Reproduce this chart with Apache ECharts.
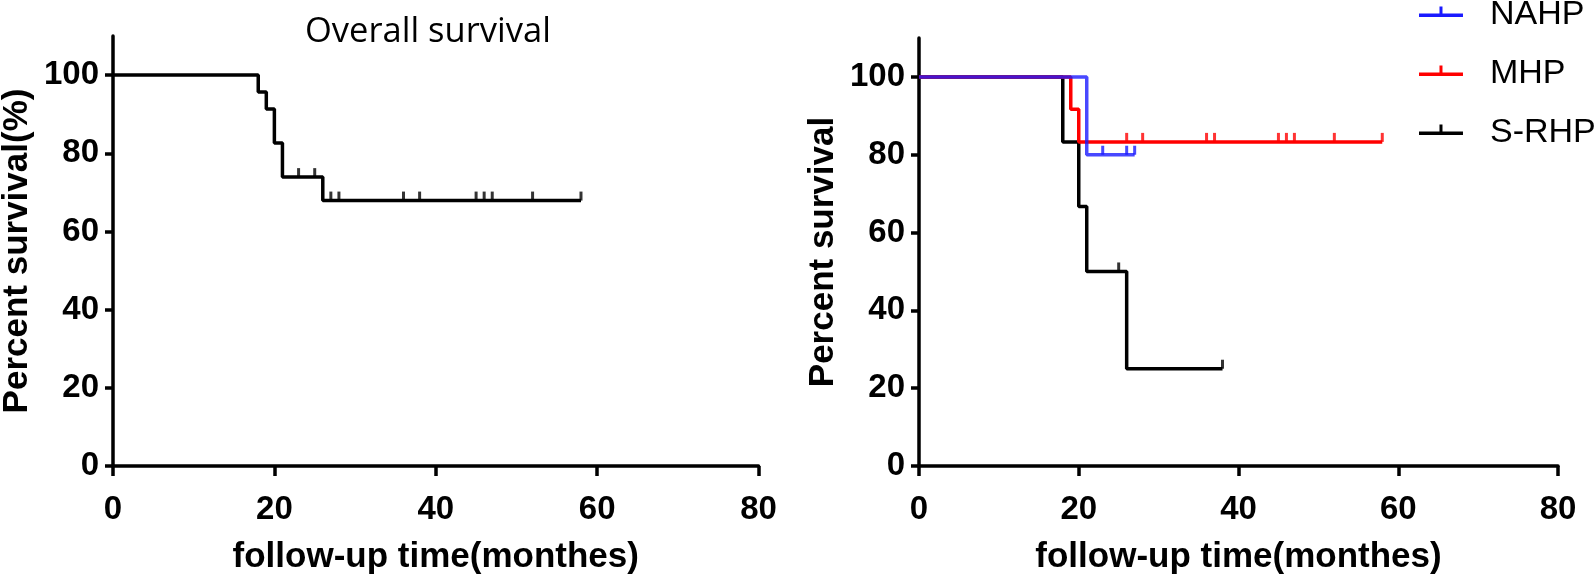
<!DOCTYPE html>
<html>
<head>
<meta charset="utf-8">
<script src="https://cdn.jsdelivr.net/npm/echarts@6/dist/echarts.min.js"></script>
<style>
html,body{margin:0;padding:0;background:#fff;}
#chart{width:1594px;height:574px;}
</style>
</head>
<body>
<div id="chart"></div>
<script>
// ---- Data ----
const yTicks = [0, 20, 40, 60, 80, 100];
const xTicks = [0, 20, 40, 60, 80];

// Overall survival (left panel)
const osTime = [0, 18, 19, 20, 21, 26, 58];
const osSurv = [100, 95.7, 91.3, 82.6, 73.9, 67.9, 67.9];
const osCensorTime = [23, 25, 27, 28, 36, 38, 45, 46, 47, 52, 58];
const osCensorSurv = [73.9, 73.9, 67.9, 67.9, 67.9, 67.9, 67.9, 67.9, 67.9, 67.9, 67.9];

// Groups (right panel)
const groupNames = ['NAHP', 'MHP', 'S-RHP'];
const nahpTime = [0, 21, 27];
const nahpSurv = [100, 80, 80];
const nahpCensorTime = [23, 26, 27];
const nahpCensorSurv = [80, 80, 80];

const mhpTime = [0, 19, 20, 58];
const mhpSurv = [100, 91.7, 83.3, 83.3];
const mhpCensorTime = [26, 28, 36, 37, 45, 46, 47, 52, 58];
const mhpCensorSurv = [83.3, 83.3, 83.3, 83.3, 83.3, 83.3, 83.3, 83.3, 83.3];

const srhpTime = [0, 18, 20, 21, 26, 38];
const srhpSurv = [100, 83.3, 66.7, 50, 25, 25];
const srhpCensorTime = [25, 38];
const srhpCensorSurv = [50, 25];

// ---- Helpers ----
const zip = (a, b) => a.map((v, i) => [v, b[i]]);
const tickFont = { fontFamily: "'Liberation Sans', Arial, sans-serif", fontWeight: 'bold', fontSize: 33, color: '#000' };
const nameFont = { fontFamily: "'Liberation Sans', Arial, sans-serif", fontWeight: 'bold', fontSize: 35, color: '#000' };
const axisLine = { show: true, onZero: false, lineStyle: { color: '#000', width: 3.5 } };

function xAxis(gridIndex) {
  return {
    type: 'value', gridIndex, min: 0, max: 80, interval: 20,
    axisLine, axisTick: { show: true, length: 10, lineStyle: { color: '#000', width: 3.5 } },
    axisLabel: Object.assign({ margin: 27, customValues: xTicks }, tickFont),
    splitLine: { show: false },
    name: 'follow-up time(monthes)', nameLocation: 'middle', nameGap: 74,
    nameTextStyle: nameFont
  };
}
function yAxis(gridIndex, name) {
  return {
    type: 'value', gridIndex, min: 0, max: 110,
    axisLine,
    axisTick: { show: true, length: 8, customValues: yTicks, lineStyle: { color: '#000', width: 3.5 } },
    axisLabel: Object.assign({ margin: 14, customValues: yTicks }, tickFont),
    splitLine: { show: false },
    name, nameLocation: 'middle', nameGap: 78,
    nameTextStyle: nameFont
  };
}
function stepLine(name, xi, time, surv, color, opacity) {
  return {
    name, type: 'line', xAxisIndex: xi, yAxisIndex: xi, step: 'end',
    data: zip(time, surv), symbol: 'none',
    lineStyle: { color, width: 3.5, opacity: opacity || 1 },
    itemStyle: { color }, z: 3
  };
}
function censor(name, xi, time, surv, color) {
  return {
    name, type: 'scatter', xAxisIndex: xi, yAxisIndex: xi,
    data: zip(time, surv), symbol: 'rect', symbolSize: [3, 9], symbolOffset: [0, -4.5],
    itemStyle: { color }, z: 4, silent: true
  };
}

const chart = echarts.init(document.getElementById('chart'), null, { renderer: 'canvas' });
chart.setOption({
  animation: false,
  backgroundColor: '#fff',
  title: {
    text: 'Overall survival', left: 305, top: 15, padding: 0,
    textStyle: { fontFamily: "'Open Sans', sans-serif", fontWeight: 'normal', fontSize: 34.5, color: '#000' }
  },
  legend: {
    data: groupNames, orient: 'vertical', left: 1419, top: -2, padding: 0,
    itemWidth: 44, itemHeight: 17, itemGap: 25,
    icon: 'path://M0,7 L44,7 L44,10.5 L0,10.5 Z M20.5,0 L23.5,0 L23.5,8.5 L20.5,8.5 Z M0,17 L44,17 L44,17.01 L0,17.01 Z',
    textStyle: { fontFamily: "'Liberation Sans', Arial, sans-serif", fontSize: 34, color: '#000', padding: [0, 0, 0, 22], lineHeight: 34 }
  },
  grid: [
    { left: 113, width: 645.5, top: 36, bottom: 108, outerBoundsMode: 'none', containLabel: false },
    { left: 919, width: 639, top: 38, bottom: 108, outerBoundsMode: 'none', containLabel: false }
  ],
  xAxis: [xAxis(0), xAxis(1)],
  yAxis: [yAxis(0, 'Percent survival(%)'), yAxis(1, 'Percent survival')],
  series: [
    stepLine('Overall', 0, osTime, osSurv, '#000'),
    censor('Overall censored', 0, osCensorTime, osCensorSurv, '#000'),
    stepLine('S-RHP', 1, srhpTime, srhpSurv, '#000'),
    censor('S-RHP censored', 1, srhpCensorTime, srhpCensorSurv, '#000'),
    stepLine('MHP', 1, mhpTime, mhpSurv, '#ff0000'),
    censor('MHP censored', 1, mhpCensorTime, mhpCensorSurv, '#ff0000'),
    stepLine('NAHP', 1, nahpTime, nahpSurv, '#1a1aff', 0.8),
    censor('NAHP censored', 1, nahpCensorTime, nahpCensorSurv, '#1a1aff')
  ]
});
</script>
</body>
</html>
